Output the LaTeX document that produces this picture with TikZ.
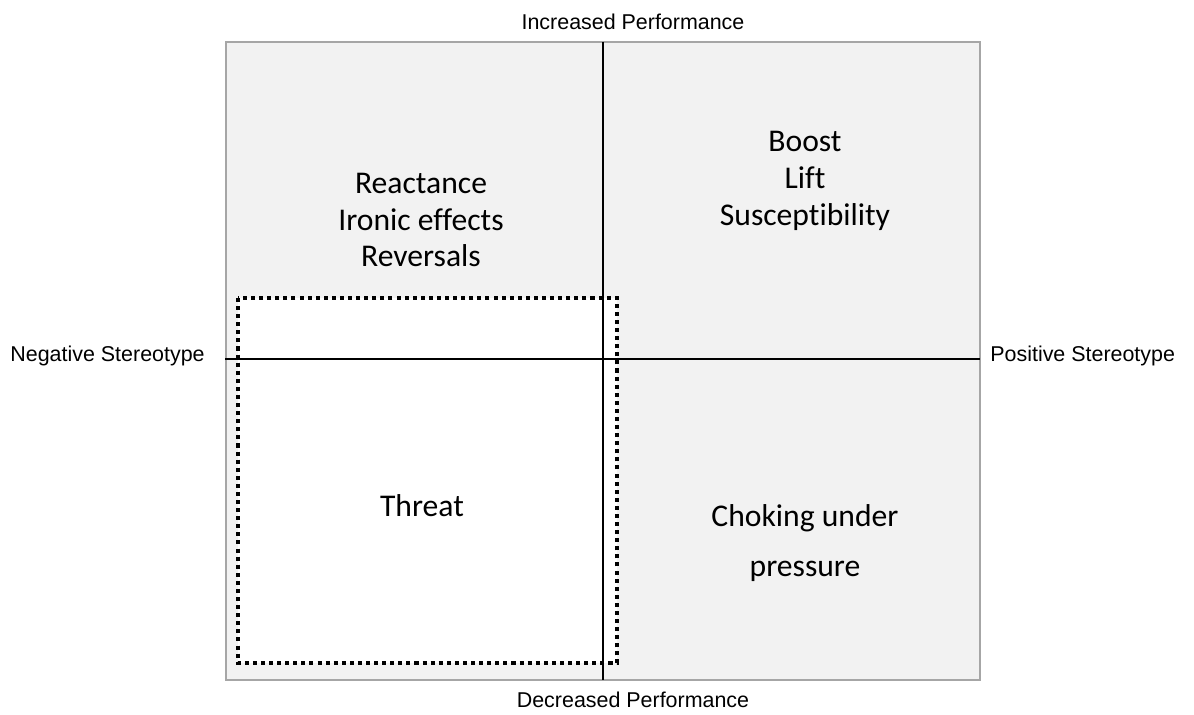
\documentclass[tikz,border=0pt]{standalone}
\usepackage{fontspec}
\setmainfont{Carlito}[Ligatures=NoCommon]
\newfontfamily\axisfont{Liberation Sans}
\definecolor{quadfill}{HTML}{F2F2F2}
\definecolor{framecolor}{HTML}{A6A6A6}
\begin{document}
\begin{tikzpicture}[
    x=0.02cm, y=-0.02cm,
    every node/.style={inner sep=0pt},
    axlab/.style={font=\axisfont\fontsize{12.2}{14}\selectfont},
    quad/.style={font=\fontsize{18}{21}\selectfont, align=center},
    axisline/.style={black, line width=0.85pt},
]
\useasboundingbox (0,0) rectangle (1194,715);

% the field and its frame
\fill[quadfill] (226,42) rectangle (980,680);
\fill[white] (238,298) rectangle (617,663);
\draw[framecolor, line width=0.9pt] (226,42) rectangle (980,680);

% axes
\coordinate (top) at (603,42);
\coordinate (bottom) at (603,680);
\coordinate (left) at (225,359);
\coordinate (right) at (980,359);
\draw[axisline] (top) -- (bottom);
\draw[axisline] (left) -- (right);

% threat region
\draw[black, line width=2.3pt, dash pattern=on 2.3pt off 2.3pt]
    (238,298) rectangle (617,663);

% axis labels
\node[axlab] (inc) at (633,22) {Increased Performance};
\node[axlab] (dec) at (633,700) {Decreased Performance};
\node[axlab, anchor=east] (neg) at (205,356) {Negative Stereotype};
\node[axlab, anchor=west] (pos) at (990,356) {Positive Stereotype};

% quadrant contents
\node[quad] (nw) at (421,220) {Reactance\\Ironic effects\\Reversals};
\node[quad] (ne) at (805,181) {Boost\\Lift\\Susceptibility};
\node[quad] (sw) at (422,506) {Threat};
\node[quad] (se) at (805,543) {Choking under\\[7pt]pressure};
\end{tikzpicture}
\end{document}
